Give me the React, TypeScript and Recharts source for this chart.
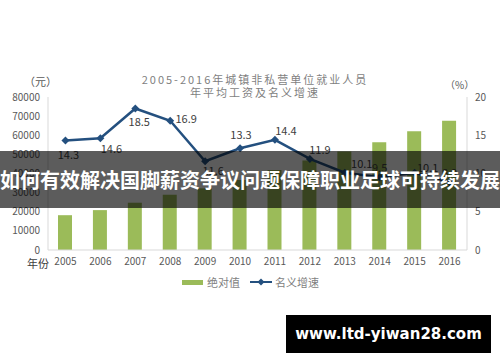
import { Bar, ComposedChart, LabelList, Line, XAxis, YAxis } from 'recharts';

const YEARS = ['2005', '2006', '2007', '2008', '2009', '2010', '2011', '2012', '2013', '2014', '2015', '2016'];
const WAGE = [18200, 20856, 24721, 28898, 32244, 36539, 41799, 46769, 51483, 56360, 62029, 67569];
const GROWTH = [14.3, 14.6, 18.5, 16.9, 11.6, 13.3, 14.4, 11.9, 10.1, 9.5, 10.1, 8.9];
const LEFT_TICKS = [0, 10000, 20000, 30000, 40000, 50000, 60000, 70000, 80000];
const RIGHT_TICKS = [0, 5, 10, 15, 20];

// label offsets from each point (dx, dy)
const LABEL_OFFSETS: [number, number][] = [
  [3, 13], [11, 10], [4, 13], [16, -3], [8, 9], [1, -14],
  [11, -10], [10, -10], [17, -10], [0, -10], [13, -6], [0, -10],
];

const GREEN = '#9bbb59';
const BLUE = '#24507f';
const TEXT = '#595959';

const data = YEARS.map((year, i) => ({ year, wage: WAGE[i], growth: GROWTH[i] }));

function Diamond(props: any) {
  const { cx, cy } = props;
  if (cx == null || cy == null) return null;
  return <path d={`M${cx},${cy - 4}L${cx + 4},${cy}L${cx},${cy + 4}L${cx - 4},${cy}Z`} fill={BLUE} />;
}

function GrowthLabel(props: any) {
  const { x, y, value, index } = props;
  const [dx, dy] = LABEL_OFFSETS[index] || [0, -10];
  return (
    <text x={x + dx} y={y + dy} textAnchor="middle" dominantBaseline="central" fontSize={11} fill="#404040">
      {value}
    </text>
  );
}

const abs = (s: React.CSSProperties): React.CSSProperties => ({ position: 'absolute', ...s });

export default function App() {
  return (
    <div style={{ position: 'absolute', left: 0, top: 0, width: 500, height: 362, background: '#fff', overflow: 'hidden', fontFamily: '"Noto Sans CJK SC", sans-serif' }}>
      <ComposedChart width={500} height={362} data={data} margin={{ top: 97, right: 0, bottom: 82, left: 0 }}>
        <XAxis dataKey="year" height={30} tickLine={false} axisLine={{ stroke: '#d9d9d9' }} tick={{ fontSize: 10, fill: TEXT }} interval={0} />
        <YAxis yAxisId="left" width={48} domain={[0, 80000]} ticks={LEFT_TICKS} tickLine={false} axisLine={{ stroke: '#d9d9d9' }} tick={{ fontSize: 10, fill: TEXT }} />
        <YAxis yAxisId="right" orientation="right" width={33} domain={[0, 20]} ticks={RIGHT_TICKS} tickLine={false} axisLine={{ stroke: '#d9d9d9' }} tick={{ fontSize: 10, fill: TEXT, textAnchor: 'start' }} />
        <Bar yAxisId="left" dataKey="wage" fill={GREEN} barSize={14} isAnimationActive={false} />
        <Line yAxisId="right" dataKey="growth" stroke={BLUE} strokeWidth={2.5} dot={<Diamond />} activeDot={false} isAnimationActive={false}>
          <LabelList dataKey="growth" content={<GrowthLabel />} />
        </Line>
      </ComposedChart>

      <div style={abs({ left: 0, top: 73, width: 510, textAlign: 'center', fontSize: 11, lineHeight: '13px', letterSpacing: 2, color: '#7f7f7f' })}>
        2005-2016年城镇非私营单位就业人员
        <br />
        年平均工资及名义增速
      </div>
      <div style={abs({ left: 24, top: 73, fontSize: 11, color: TEXT })}>（元）</div>
      <div style={abs({ left: 445, top: 77, fontSize: 10, color: TEXT })}>（%）</div>
      <div style={abs({ left: 27, top: 255, fontSize: 11, color: '#404040' })}>年份</div>

      <div style={abs({ left: 182, top: 275, display: 'flex', alignItems: 'center', fontSize: 11, color: '#7f7f7f', lineHeight: '14px' })}>
        <span style={{ display: 'inline-block', width: 21, height: 5, background: GREEN, marginRight: 4 }} />
        <span style={{ marginRight: 10 }}>绝对值</span>
        <svg width={22} height={10} style={{ marginRight: 3 }}>
          <line x1={0} y1={5} x2={22} y2={5} stroke={BLUE} strokeWidth={2} />
          <path d="M11,1.5L14.5,5L11,8.5L7.5,5Z" fill={BLUE} />
        </svg>
        <span>名义增速</span>
      </div>

      <div style={abs({ left: 0, top: 151, width: 500, height: 57, background: 'rgba(0,0,0,0.64)', color: '#fff', fontSize: 20, fontWeight: 700, lineHeight: '57px', textAlign: 'center', whiteSpace: 'nowrap' })}>
        如何有效解决国脚薪资争议问题保障职业足球可持续发展
      </div>

      <div style={abs({ left: 286, top: 315, width: 205, height: 38, background: '#000', color: '#fff', fontFamily: '"DejaVu Sans", sans-serif', fontWeight: 700, fontSize: 15, lineHeight: '38px', textAlign: 'center' })}>
        www.ltd-yiwan28.com
      </div>
    </div>
  );
}
